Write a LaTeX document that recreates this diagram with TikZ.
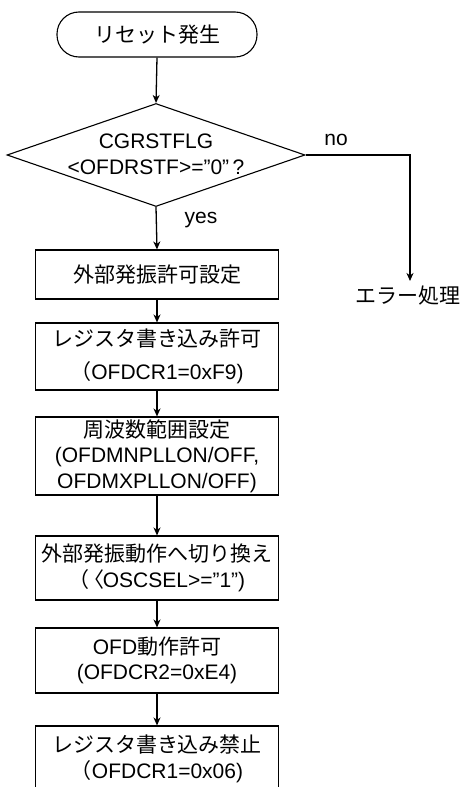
\documentclass[tikz,border=0pt]{standalone}
\usepackage{fontspec}
\setmainfont{Liberation Sans}
\newfontfamily\jp{Noto Sans CJK JP}
\usetikzlibrary{arrows.meta,shapes.geometric}
\begin{document}
\begin{tikzpicture}[x=1pt,y=-1pt,
  every node/.style={font=\fontsize{21}{25.5}\selectfont, inner sep=0pt},
  term/.style={draw, line width=1.1pt, rounded corners=22pt, minimum width=200pt, minimum height=45pt},
  dia/.style={draw, line width=1.1pt, diamond, minimum width=298pt, minimum height=103pt},
  stepbox/.style={draw, line width=1.1pt, rectangle, minimum width=243pt, align=center},
  conn/.style={line width=1.3pt, -{Stealth[length=8pt,width=7pt,inset=2.5pt]}}
]
\useasboundingbox (0,0) rectangle (462,787);
\clip (0,0) rectangle (462,787);

\node[term] (start) at (157,34.5) {\jp リセット発生};
\node[dia] (dec) at (156,155) {};
\node[align=center] (dtext) at (156,154.5) {CGRSTFLG\\<OFDRSTF>=”0”\,?};

\node[stepbox, minimum height=49pt] (b1) at (157,274.5) {\jp 外部発振許可設定};
\node[stepbox, minimum height=67pt] (b2) at (157,356.5) {{\jp レジスタ書き込み許可}\\[7pt]{\jp （}OFDCR1=0xF9)};
\node[stepbox, minimum height=78pt] (b3) at (157,456) {{\jp 周波数範囲設定}\\(OFDMNPLLON/OFF,\\OFDMXPLLON/OFF)};
\node[stepbox, minimum height=64pt] (b4) at (157,568) {{\jp 外部発振動作へ切り換え}\\{\jp （\kern-6pt〈\kern-2pt}OSCSEL>=”1”)};
\node[stepbox, minimum height=65pt] (b5) at (157,660.5) {OFD{\jp 動作許可}\\(OFDCR2=0xE4)};
\node[stepbox, minimum height=66pt] (b6) at (157,759) {{\jp レジスタ書き込み禁止}\\{\jp （}OFDCR1=0x06)};

\node (yes) at (201,220) {yes};
\node (no) at (336,140) {no};
\coordinate (corner) at (410,155);
\coordinate (errend) at (410,281);
\node (err) at (407.5,296) {\jp エラー処理};

\draw[conn] (start.south) -- (dec.north);
\draw[conn] (dec.south) -- (b1.north);
\draw[conn] (dec.east) -- (corner) -- (errend);
\draw[conn] (b1.south) -- (b2.north);
\draw[conn] (b2.south) -- (b3.north);
\draw[conn] (b3.south) -- (b4.north);
\draw[conn] (b4.south) -- (b5.north);
\draw[conn] (b5.south) -- (b6.north);
\end{tikzpicture}
\end{document}
